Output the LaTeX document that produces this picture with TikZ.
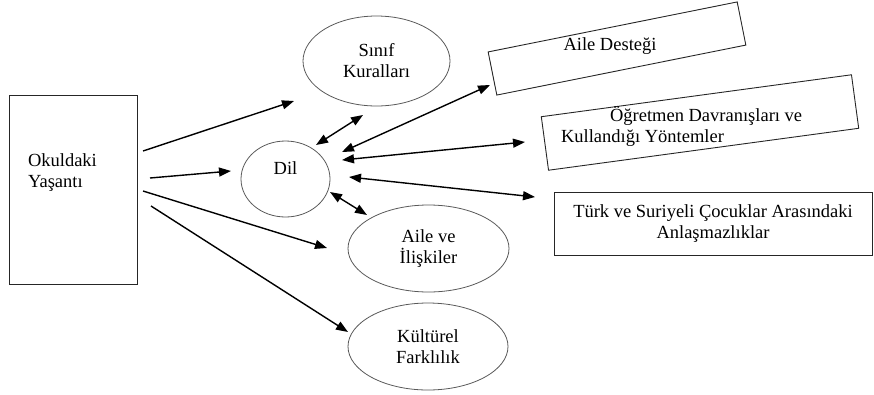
\documentclass[tikz,border=0pt]{standalone}
\usepackage{fontspec}
\setmainfont{Liberation Serif}
\usetikzlibrary{arrows.meta,shapes.geometric}

\begin{document}
\begin{tikzpicture}[x=1pt, y=-1pt, >={Triangle[length=12pt,width=9pt]}, line width=1.4pt,
	every node/.style={font=\fontsize{18.5}{21}\selectfont},
	kutu/.style={draw=black!85, line width=0.9pt, inner sep=0pt},
	elips/.style={draw=black!65, ellipse, line width=0.8pt, inner sep=0pt, align=center}]
				\useasboundingbox (0,0) rectangle (874,394);
				% 1. sol kutu
				\node[kutu, minimum width=128pt, minimum height=189pt] (okul) at (73,189.5) {};
				\node[anchor=west, align=left] (okult) at (24,173) {Okuldaki\\Yaşantı};
				
				% 2. elipsler
				\node[elips, minimum width=147pt, minimum height=90pt] (sinif) at (376.5,61) {Sınıf\\Kuralları};
				\node[elips, minimum width=89pt, minimum height=76pt, text depth=22pt] (dil) at (285.5,179) {Dil};
				\node[elips, minimum width=161pt, minimum height=87pt] (aile) at (428.5,248.5) {Aile ve\\İlişkiler};
				\node[elips, minimum width=160pt, minimum height=87pt] (kultur) at (428,346.5) {Kültürel\\Farklılık};
				
				% 3. sag kutular (egik olanlar yazisiz, yazi ayri)
				\node[kutu, rotate=11.35, minimum width=254pt, minimum height=44pt] (destek) at (617,48.5) {};
				\node (destekt) at (610,46) {Aile Desteği};
				\node[kutu, rotate=7.7, minimum width=313pt, minimum height=54pt] (ogretmen) at (700,122.5) {};
				\node[anchor=west, align=left] (ogretment) at (557,126) {\hspace*{49pt}Öğretmen Davranışları ve\\Kullandığı Yöntemler};
				\node[kutu, minimum width=318pt, minimum height=63pt, align=center] (turk) at (713,223.5) {Türk ve Suriyeli Çocuklar Arasındaki\\Anlaşmazlıklar};
				
				% 4. ok uclari
				\coordinate (o1) at (143,151); \coordinate (o1u) at (294,101);
				\coordinate (o2) at (150,178); \coordinate (o2u) at (231,171);
				\coordinate (o3) at (143,191); \coordinate (o3u) at (327,248);
				\coordinate (o4) at (151,206); \coordinate (o4u) at (348,332);
				\coordinate (d1) at (316,145); \coordinate (d1u) at (363,115);
				\coordinate (d2) at (342,152); \coordinate (d2u) at (490,85);
				\coordinate (d3) at (342,160); \coordinate (d3u) at (525,142);
				\coordinate (d4) at (349,177); \coordinate (d4u) at (535,197);
				\coordinate (d5) at (330,192); \coordinate (d5u) at (367,215);
				
				% 5. oklar
				\draw[->] (o1) -- (o1u);
				\draw[->] (o2) -- (o2u);
				\draw[->] (o3) -- (o3u);
				\draw[->] (o4) -- (o4u);
				\draw[<->] (d1) -- (d1u);
				\draw[<->] (d2) -- (d2u);
				\draw[<->] (d3) -- (d3u);
				\draw[<->] (d4) -- (d4u);
				\draw[<->] (d5) -- (d5u);
			\end{tikzpicture}
\end{document}
